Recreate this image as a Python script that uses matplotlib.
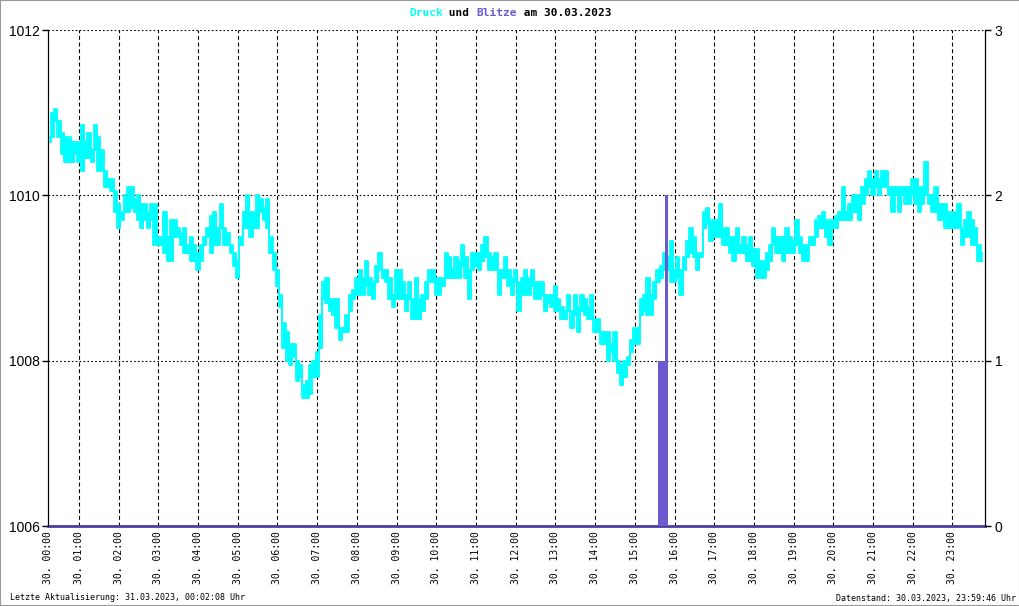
import matplotlib.pyplot as plt
import numpy as np
from matplotlib.patches import Rectangle

# Luftdruck in hPa, je 5-Minuten-Intervall ab 00:15 der obere und untere Wert
# eine Zeile pro Stunde
druck_hoch = [
    1010.7, 1011.0, 1011.05, 1010.9, 1010.75, 1010.7, 1010.7, 1010.65, 1010.65, 1010.65,
    1010.85, 1010.65, 1010.75, 1010.55, 1010.85, 1010.7, 1010.55, 1010.3, 1010.2, 1010.2, 1010.05, 1009.9,
    1009.8, 1010.0, 1010.1, 1010.1, 1009.95, 1010.0, 1009.9, 1009.9, 1009.8, 1009.9, 1009.9, 1009.5,
    1009.5, 1009.8, 1009.5, 1009.7, 1009.7, 1009.6, 1009.55, 1009.6, 1009.4, 1009.5, 1009.4, 1009.3,
    1009.4, 1009.5, 1009.6, 1009.75, 1009.8, 1009.6, 1009.9, 1009.6, 1009.55, 1009.4, 1009.3, 1009.2,
    1009.5, 1009.8, 1010.0, 1009.8, 1009.8, 1010.0, 1009.95, 1009.85, 1009.95, 1009.5, 1009.3, 1009.1,
    1008.8, 1008.45, 1008.35, 1008.2, 1008.2, 1008.0, 1007.95, 1007.7, 1007.75, 1007.95, 1008.0, 1008.1,
    1008.55, 1008.95, 1009.0, 1008.75, 1008.75, 1008.75, 1008.4, 1008.4, 1008.55, 1008.8, 1008.85, 1009.0,
    1009.1, 1009.0, 1009.2, 1009.0, 1008.95, 1009.15, 1009.3, 1009.1, 1009.1, 1009.0, 1008.8, 1009.1,
    1009.1, 1008.95, 1008.8, 1008.95, 1008.75, 1009.0, 1008.75, 1008.8, 1008.95, 1009.1, 1009.1, 1009.0,
    1009.0, 1009.0, 1009.3, 1009.25, 1009.1, 1009.25, 1009.2, 1009.4, 1009.25, 1009.1, 1009.3, 1009.3,
    1009.3, 1009.4, 1009.5, 1009.3, 1009.25, 1009.3, 1009.1, 1009.1, 1009.25, 1009.1, 1009.0, 1009.1,
    1008.95, 1009.0, 1009.1, 1009.0, 1009.1, 1008.95, 1008.95, 1008.95, 1008.8, 1008.8, 1008.8, 1008.9,
    1008.75, 1008.65, 1008.6, 1008.8, 1008.6, 1008.8, 1008.65, 1008.8, 1008.75, 1008.65, 1008.8, 1008.5,
    1008.5, 1008.35, 1008.35, 1008.35, 1008.2, 1008.35, 1008.0, 1007.95, 1008.0, 1008.05, 1008.25, 1008.4,
    1008.4, 1008.75, 1008.8, 1009.0, 1008.8, 1008.95, 1009.1, 1009.15, 1009.3, 1009.25, 1009.45, 1009.1,
    1009.25, 1009.1, 1009.25, 1009.45, 1009.6, 1009.5, 1009.3, 1009.3, 1009.8, 1009.85, 1009.7, 1009.7,
    1009.7, 1009.9, 1009.6, 1009.6, 1009.5, 1009.5, 1009.6, 1009.4, 1009.5, 1009.4, 1009.5, 1009.35,
    1009.35, 1009.2, 1009.2, 1009.3, 1009.4, 1009.6, 1009.5, 1009.5, 1009.5, 1009.6, 1009.5, 1009.45,
    1009.7, 1009.5, 1009.4, 1009.4, 1009.5, 1009.5, 1009.7, 1009.75, 1009.8, 1009.7, 1009.7, 1009.7,
    1009.75, 1009.8, 1010.1, 1009.8, 1009.9, 1010.0, 1010.0, 1010.0, 1010.1, 1010.2, 1010.3, 1010.2,
    1010.3, 1010.2, 1010.3, 1010.3, 1010.1, 1010.1, 1010.1, 1010.1, 1010.1, 1010.1, 1010.1, 1010.2,
    1010.2, 1010.1, 1010.1, 1010.4, 1010.0, 1010.0, 1010.1, 1009.9, 1009.9, 1009.9, 1009.8, 1009.8,
    1009.8, 1009.9, 1009.6, 1009.7, 1009.8, 1009.7, 1009.6, 1009.4, 1009.3,
]
druck_tief = [
    1010.65, 1010.7, 1010.9, 1010.7, 1010.5, 1010.4, 1010.4, 1010.4, 1010.5, 1010.4,
    1010.3, 1010.45, 1010.45, 1010.4, 1010.55, 1010.3, 1010.3, 1010.1, 1010.1, 1010.05, 1009.8, 1009.6,
    1009.7, 1009.8, 1009.8, 1009.85, 1009.8, 1009.7, 1009.6, 1009.7, 1009.6, 1009.7, 1009.4, 1009.4,
    1009.4, 1009.3, 1009.2, 1009.2, 1009.5, 1009.5, 1009.4, 1009.3, 1009.3, 1009.2, 1009.2, 1009.1,
    1009.2, 1009.4, 1009.5, 1009.3, 1009.4, 1009.4, 1009.6, 1009.4, 1009.4, 1009.3, 1009.15, 1009.0,
    1009.4, 1009.6, 1009.6, 1009.5, 1009.6, 1009.6, 1009.8, 1009.7, 1009.6, 1009.3, 1009.1, 1008.9,
    1008.65, 1008.15, 1008.0, 1007.95, 1008.05, 1007.75, 1007.8, 1007.55, 1007.55, 1007.6, 1007.8, 1007.8,
    1008.15, 1008.75, 1008.7, 1008.6, 1008.55, 1008.4, 1008.25, 1008.35, 1008.35, 1008.6, 1008.75, 1008.8,
    1008.8, 1008.8, 1008.9, 1008.8, 1008.75, 1008.95, 1009.1, 1009.0, 1008.95, 1008.75, 1008.65, 1008.75,
    1008.75, 1008.75, 1008.6, 1008.75, 1008.5, 1008.5, 1008.5, 1008.6, 1008.75, 1008.95, 1008.95, 1008.8,
    1008.8, 1008.9, 1009.0, 1009.0, 1009.0, 1009.0, 1009.0, 1009.15, 1009.0, 1008.75, 1009.1, 1009.15,
    1009.1, 1009.2, 1009.25, 1009.1, 1009.1, 1009.1, 1008.8, 1009.0, 1009.0, 1008.9, 1008.8, 1008.95,
    1008.6, 1008.8, 1008.8, 1008.8, 1008.9, 1008.75, 1008.75, 1008.8, 1008.6, 1008.7, 1008.65, 1008.6,
    1008.6, 1008.5, 1008.5, 1008.6, 1008.4, 1008.55, 1008.35, 1008.6, 1008.55, 1008.5, 1008.5, 1008.35,
    1008.35, 1008.2, 1008.2, 1008.0, 1008.1, 1008.0, 1007.85, 1007.7, 1007.8, 1007.95, 1008.1, 1008.2,
    1008.2, 1008.55, 1008.6, 1008.55, 1008.55, 1008.75, 1008.95, 1009.0, 1009.1, 1009.1, 1008.95, 1008.95,
    1009.0, 1008.8, 1009.1, 1009.25, 1009.3, 1009.25, 1009.1, 1009.25, 1009.6, 1009.65, 1009.45, 1009.5,
    1009.5, 1009.5, 1009.4, 1009.4, 1009.3, 1009.2, 1009.3, 1009.3, 1009.3, 1009.2, 1009.2, 1009.15,
    1009.0, 1009.0, 1009.0, 1009.1, 1009.2, 1009.4, 1009.3, 1009.3, 1009.2, 1009.3, 1009.3, 1009.3,
    1009.4, 1009.3, 1009.2, 1009.2, 1009.4, 1009.4, 1009.5, 1009.6, 1009.6, 1009.5, 1009.4, 1009.6,
    1009.6, 1009.7, 1009.7, 1009.7, 1009.7, 1009.8, 1009.8, 1009.7, 1009.9, 1010.0, 1010.1, 1010.0,
    1010.1, 1010.0, 1010.1, 1010.1, 1010.0, 1009.8, 1010.0, 1009.8, 1010.0, 1009.9, 1009.9, 1010.0,
    1009.9, 1009.8, 1009.9, 1010.0, 1009.9, 1009.8, 1009.8, 1009.7, 1009.7, 1009.6, 1009.6, 1009.6,
    1009.6, 1009.6, 1009.4, 1009.5, 1009.5, 1009.4, 1009.4, 1009.2, 1009.2,
]
zeit = 0.25 + np.arange(len(druck_hoch)) * 5 / 60

# Blitze: Anzahl pro 5-Minuten-Intervall (Beginn in Stunden)
blitz_zeit = [15.58, 15.665, 15.75]
blitz_anzahl = [1, 1, 2]

x_von, x_bis = 0.22, 23.82
tick_pos = [x_von] + list(range(1, 24))
tick_labels = ['30. 00:00', '30. 01:00', '30. 02:00', '30. 03:00', '30. 04:00', '30. 05:00',
               '30. 06:00', '30. 07:00', '30. 08:00', '30. 09:00', '30. 10:00', '30. 11:00',
               '30. 12:00', '30. 13:00', '30. 14:00', '30. 15:00', '30. 16:00', '30. 17:00',
               '30. 18:00', '30. 19:00', '30. 20:00', '30. 21:00', '30. 22:00', '30. 23:00']
druck_ticks = [1006, 1008, 1010, 1012]
blitz_ticks = [0, 1, 2, 3]

cyan = '#00FFFF'
lila = '#6A5ACD'
mono = 'DejaVu Sans Mono'

fig = plt.figure(figsize=(10.2, 6.06), dpi=100)
ax = fig.add_axes([48 / 1020, 80 / 606, 937 / 1020, 496 / 606])
ax.set_xlim(x_von, x_bis)
ax.set_ylim(1006, 1012)

# Gitter
for h in tick_pos[1:]:
    ax.axvline(h, color='black', lw=0.8, ls=(0, (3.5, 2.5)), zorder=1)
for y in druck_ticks[1:]:
    ax.axhline(y, color='black', lw=0.8, ls=(0, (1.5, 2)), zorder=1)

# Druckverlauf als gezacktes Band
ax.fill_between(zeit, druck_tief, druck_hoch, step='mid', color=cyan, lw=0, zorder=3)
ax.plot(zeit, druck_hoch, color=cyan, lw=1.3, drawstyle='steps-mid', zorder=3)
ax.plot(zeit, druck_tief, color=cyan, lw=1.3, drawstyle='steps-mid', zorder=3)

ax2 = ax.twinx()
ax2.set_ylim(0, 3)
ax2.bar(blitz_zeit, blitz_anzahl, width=5 / 60, align='edge', color=lila, lw=0, zorder=4)

ax.set_xticks(tick_pos)
ax.set_xticklabels(tick_labels, rotation=90, fontfamily=mono, fontsize=7, va='top', ha='center')
ax.set_yticks(druck_ticks)
ax.set_yticklabels([str(v) for v in druck_ticks], fontfamily='Liberation Sans', fontsize=10)
ax2.set_yticks(blitz_ticks)
ax2.set_yticklabels([str(v) for v in blitz_ticks], fontfamily='Liberation Sans', fontsize=10)

ax.tick_params(axis='x', length=0, pad=4)
ax.tick_params(axis='y', length=4, width=1, direction='out', pad=2)
ax2.tick_params(axis='y', length=4, width=1, direction='out', pad=3)

for a in (ax, ax2):
    a.spines['top'].set_visible(False)
    a.spines['left'].set_color('black')
    a.spines['right'].set_color('black')
ax.spines['bottom'].set_color('#4B3F9E')
ax.spines['bottom'].set_linewidth(2)
ax2.spines['bottom'].set_visible(False)

# Titel mit farbigen Woertern (Monospace, daher Zeichenbreite konstant)
teile = [('Druck', cyan), (' und ', 'black'), ('Blitze', lila), (' am 30.03.2023', 'black')]
ganz = ''.join(s for s, c in teile)
fig.canvas.draw()
r = fig.canvas.get_renderer()
probe = fig.text(0, 0, ganz, fontfamily=mono, fontsize=8, fontweight='bold')
breite = probe.get_window_extent(r).width / fig.bbox.width
probe.remove()
cw = breite / len(ganz)
x = 0.5 - breite / 2
for s, c in teile:
    fig.text(x, 1 - 13 / 606, s, color=c, fontfamily=mono, fontsize=8, fontweight='bold',
             va='center', ha='left')
    x += len(s) * cw

fig.text(10 / 1020, 1 - 598 / 606, 'Letzte Aktualisierung: 31.03.2023, 00:02:08 Uhr',
         fontfamily=mono, fontsize=6, va='center', ha='left')
fig.text(1016 / 1020, 1 - 598 / 606, 'Datenstand: 30.03.2023, 23:59:46 Uhr',
         fontfamily=mono, fontsize=6, va='center', ha='right')

fig.patches.append(Rectangle((0, 0), 1, 1, transform=fig.transFigure, fill=False,
                             edgecolor='#999999', lw=1.5))

fig.savefig('out.png', dpi=100)
